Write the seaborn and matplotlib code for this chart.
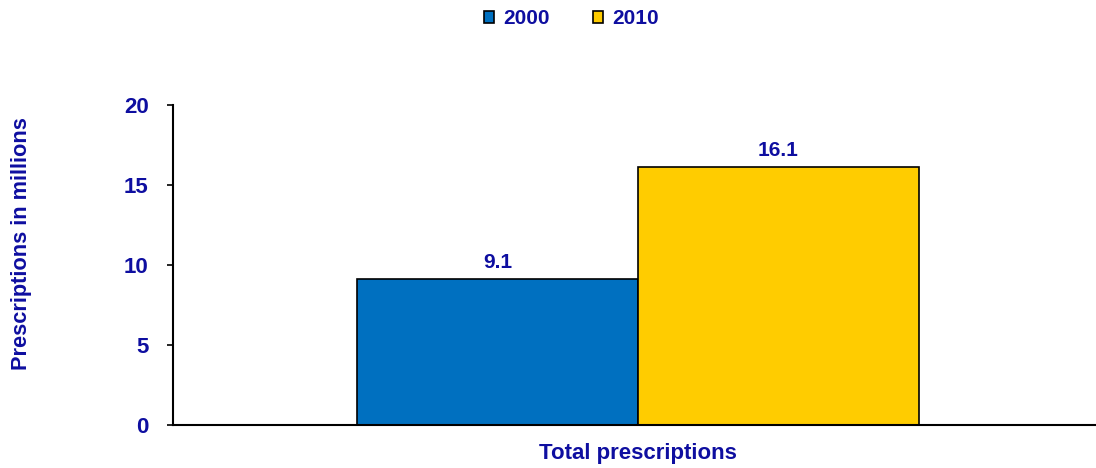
import matplotlib
matplotlib.use("Agg")
import matplotlib.pyplot as plt
import pandas as pd
import seaborn as sns

# data
category = ["Total prescriptions", "Total prescriptions"]
years = ["2000", "2010"]
values = [9.1, 16.1]

BLUE = "#0070C0"
YELLOW = "#FFCC00"
TEXT = "#0E0EA0"

sns.set_theme(style="white")
plt.rcParams["font.family"] = ["Liberation Sans", "DejaVu Sans"]
plt.rcParams["font.weight"] = "bold"

df = pd.DataFrame({"category": category, "year": years, "value": values})

fig = plt.figure(figsize=(10.96, 4.68), dpi=100)
ax = fig.add_axes([173 / 1096, 43 / 468, 923 / 1096, 320 / 468])

sns.barplot(data=df, x="category", y="value", hue="year",
            palette=[BLUE, YELLOW], width=0.604, dodge=True,
            edgecolor="black", linewidth=1.2, saturation=1, ax=ax)

for cont in ax.containers:
    ax.bar_label(cont, fmt="%.1f", padding=5, fontsize=15,
                 fontweight="bold", color=TEXT)

ax.set_xlim(-0.5, 0.4925)
ax.set_ylim(0, 20)
ax.set_yticks([0, 5, 10, 15, 20])
ax.set_xlabel("")
ax.set_ylabel("Prescriptions in millions", fontsize=15.7, fontweight="bold",
              color=TEXT)
ax.yaxis.set_label_coords(-0.153, 0.566)

for s in ["top", "right"]:
    ax.spines[s].set_visible(False)
for s in ["left", "bottom"]:
    ax.spines[s].set_color("black")
    ax.spines[s].set_linewidth(1.5)

ax.tick_params(axis="y", which="major", direction="out", length=4.5, width=1.2,
               color="black", left=True, labelsize=16, labelcolor=TEXT, pad=13)
ax.tick_params(axis="x", length=0, labelsize=16, labelcolor=TEXT, pad=13)
for lbl in ax.get_xticklabels() + ax.get_yticklabels():
    lbl.set_fontweight("bold")

leg = ax.legend(loc="center", bbox_to_anchor=(571.5 / 1096, 1 - 19 / 468),
                bbox_transform=fig.transFigure, ncol=2, frameon=False,
                fontsize=15, handlelength=0.5, handleheight=0.5,
                handletextpad=0.43, columnspacing=2.07, borderpad=0)
for t in leg.get_texts():
    t.set_color(TEXT)
    t.set_fontweight("bold")
for h in leg.legend_handles:
    h.set_edgecolor("black")
    h.set_linewidth(1.2)

fig.savefig("out.png", dpi=100)
